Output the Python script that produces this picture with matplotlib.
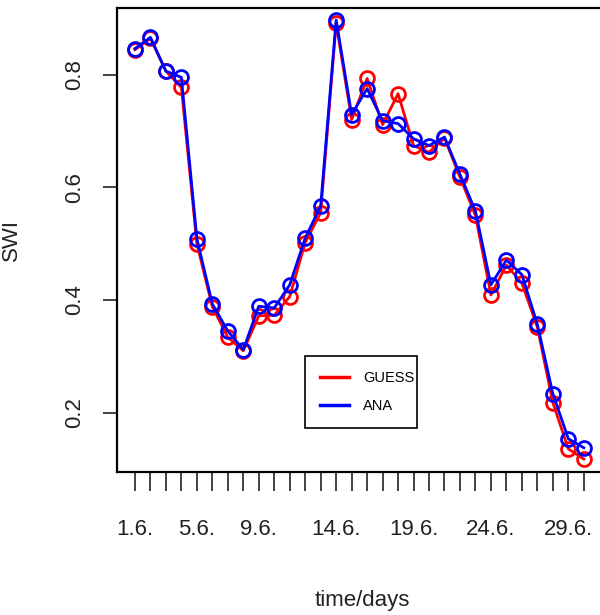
import numpy as np
import matplotlib
matplotlib.use("Agg")
import matplotlib.pyplot as plt

# daily SWI values, 1.6. - 30.6.
days = list(range(1, 31))
guess = [0.844, 0.864, 0.806, 0.777, 0.500, 0.388, 0.334, 0.310, 0.372, 0.373,
         0.406, 0.502, 0.555, 0.891, 0.720, 0.793, 0.711, 0.766, 0.674, 0.662,
         0.687, 0.618, 0.550, 0.409, 0.462, 0.430, 0.352, 0.218, 0.136, 0.118]
ana = [0.846, 0.866, 0.806, 0.795, 0.509, 0.393, 0.345, 0.312, 0.389, 0.386,
       0.427, 0.510, 0.567, 0.897, 0.729, 0.775, 0.718, 0.713, 0.686, 0.674,
       0.689, 0.623, 0.558, 0.427, 0.471, 0.445, 0.357, 0.234, 0.154, 0.138]
label_days = [1, 5, 9, 14, 19, 24, 29]
yticks = [0.2, 0.4, 0.6, 0.8]

plt.rcParams['font.family'] = ['Liberation Sans', 'DejaVu Sans']

fig = plt.figure(figsize=(6.0, 6.15), dpi=100)
ax = fig.add_axes([117 / 600, 143 / 615, 490 / 600, 464 / 615])

ax.plot(days, guess, color='red', lw=2, marker='o', ms=10, mfc='none',
        mec='red', mew=2, label='GUESS')
ax.plot(days, ana, color='blue', lw=2, marker='o', ms=10, mfc='none',
        mec='blue', mew=2, label='ANA')

ax.set_xlim(-0.16, 31.5)
ax.set_ylim(0.095, 0.918)

ax.set_xticks(days)
ax.set_xticklabels([f'{d}.6.' if d in label_days else '' for d in days])
ax.set_yticks(yticks)
ax.set_yticklabels([str(v) for v in yticks], rotation=90, va='center')

ax.tick_params(axis='x', length=14, width=1.2, pad=20, labelsize=16, colors='#222222')
ax.tick_params(axis='y', length=10, width=1.2, pad=13, labelsize=16, colors='#222222')
for s in ax.spines.values():
    s.set_linewidth(1.6)

ax.set_xlabel('time/days', fontsize=16, labelpad=36, color='#222222')
ax.set_ylabel('SWI', fontsize=16, labelpad=30, color='#222222')

# legend box placed where the original has it
leg = ax.legend(loc='lower left', bbox_to_anchor=(305 / 600, 1 - 428 / 615, 112 / 600, 73 / 615),
                bbox_transform=fig.transFigure, mode='expand', fontsize=10.5,
                fancybox=False, framealpha=1, edgecolor='black', handlelength=2.0,
                handletextpad=1.0, borderpad=1.0, labelspacing=1.0, borderaxespad=0)
leg.get_frame().set_linewidth(1.2)
for h in leg.legend_handles:
    h.set_marker('')
    h.set_linewidth(2.5)

fig.savefig('out.png', dpi=100)
